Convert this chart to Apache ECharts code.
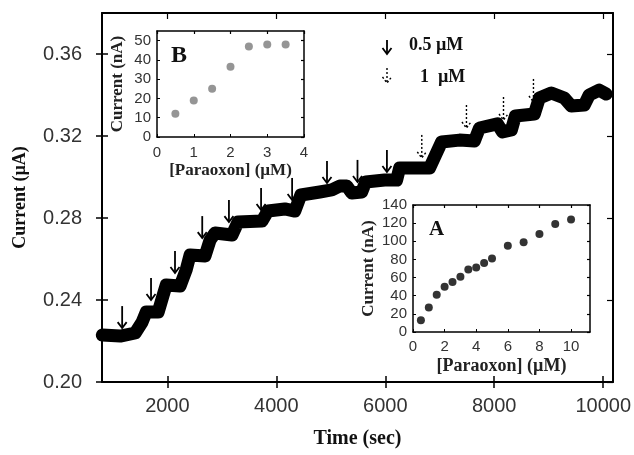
<!DOCTYPE html>
<html>
<head>
<meta charset="utf-8">
<script src="https://cdn.jsdelivr.net/npm/echarts@6/dist/echarts.min.js"></script>
<style>html,body{margin:0;padding:0;background:#fff}#c{width:634px;height:455px}</style>
</head>
<body>
<div id="c"></div>
<script>
// ---- main trace (time in s, current in µA) ----
const traceTime = [805,1135,1410,1538,1611,1831,1923,1978,2234,2344,2417,2692,2784,2875,3187,3296,3736,3846,4157,4340,4450,4798,5018,5165,5293,5385,5568,5641,5989,6208,6263,6813,6923,7033,7362,7637,7729,8059,8150,8315,8388,8736,8828,9048,9286,9414,9652,9743,9927,10055];
const traceCurrent = [0.2229,0.2224,0.2239,0.2293,0.2341,0.2341,0.2424,0.2473,0.2468,0.2546,0.2620,0.2615,0.2693,0.2727,0.2717,0.2780,0.2785,0.2834,0.2844,0.2834,0.2912,0.2927,0.2937,0.2956,0.2956,0.2922,0.2927,0.2976,0.2985,0.2985,0.3044,0.3044,0.3107,0.3171,0.3180,0.3176,0.3239,0.3259,0.3220,0.3230,0.3298,0.3307,0.3385,0.3410,0.3385,0.3346,0.3351,0.3400,0.3424,0.3405];

// ---- injection arrows (time, tip current) ----
const solidArrowTime = [1170,1700,2140,2640,3130,3720,4290,4930,5490,6030];
const solidArrowTip  = [0.2263,0.2400,0.2532,0.2702,0.2780,0.2839,0.2888,0.2971,0.2976,0.3024];
const dottedArrowTime = [6670,7490,8170,8720];
const dottedArrowTip  = [0.3093,0.3239,0.3278,0.3366];

// ---- inset A ----
const insetAConc = [0.5,1,1.5,2,2.5,3,3.5,4,4.5,5,6,7,8,9,10];
const insetACurrent = [13,27,41,50,55,61,69,71,76,81,95,99,108,119,124];
// ---- inset B ----
const insetBConc = [0.5,1,1.5,2,2.5,3,3.5];
const insetBCurrent = [12,19,25,36.5,47,48,48];

// ---- tick labels ----
const mainXTicks = [2000,4000,6000,8000,10000];
const mainYTicks = [0.20,0.24,0.28,0.32,0.36];
const insetAXTicks = [0,2,4,6,8,10];
const insetAYTicks = [0,20,40,60,80,100,120,140];
const insetBXTicks = [0,1,2,3,4];
const insetBYTicks = [0,10,20,30,40,50];

const SERIF = 'Liberation Serif';
const SANS = 'Liberation Sans';
const zip = (a,b)=>a.map((v,i)=>[v,b[i]]);

function arrowRender(dashed){
  return function(params, api){
    const p = api.coord([api.value(0), api.value(1)]);
    const len = dashed ? 23 : 22, hw = 4.5, hh = 6;
    const st = {stroke:'#000', fill:null, lineWidth: dashed?1.4:1.8, lineDash: dashed?[2,2]:null};
    return {type:'group', children:[
      {type:'line', shape:{x1:p[0],y1:p[1]-len,x2:p[0],y2:p[1]}, style:Object.assign({},st)},
      {type:'polyline', shape:{points:[[p[0]-hw,p[1]-hh],[p[0],p[1]],[p[0]+hw,p[1]-hh]]}, style:Object.assign({},st)}
    ]};
  };
}

function frameAxis(gi, pos, min, max, ticks, len, lw){
  return {type:'value', gridIndex:gi, position:pos, min:min, max:max,
    axisLine:{show:true, onZero:false, lineStyle:{color:'#000', width:lw}},
    axisTick:{show:true, inside:true, length:len, customValues:ticks, lineStyle:{color:'#000', width:1.2}},
    axisLabel:{show:false}, splitLine:{show:false}};
}

const chart = echarts.init(document.getElementById('c'), null, {renderer:'canvas'});
chart.setOption({
  animation:false,
  backgroundColor:'#fff',
  grid:[
    {left:102, top:13, width:511, height:369},
    {left:157, top:31, width:147, height:106, show:true, backgroundColor:'#fff', borderWidth:0},
    {left:413, top:205, width:177, height:127, show:true, backgroundColor:'#fff', borderWidth:0}
  ],
  xAxis:[
    {type:'value', gridIndex:0, position:'bottom', min:800, max:10180,
      axisLine:{show:true, onZero:false, lineStyle:{color:'#000', width:2}},
      axisTick:{show:true, length:6, customValues:mainXTicks, lineStyle:{color:'#000', width:1.5}},
      axisLabel:{customValues:mainXTicks, fontFamily:SANS, fontSize:20, color:'#333', margin:14,
        formatter:v=>String(v)},
      splitLine:{show:false},
      name:'Time (sec)', nameLocation:'middle', nameGap:47,
      nameTextStyle:{fontFamily:SERIF, fontWeight:'bold', fontSize:20, color:'#111'}},
    frameAxis(0,'top',800,10180,mainXTicks,6,2),
    {type:'value', gridIndex:0, position:'bottom', min:800, max:10180,
      axisLine:{show:false}, axisTick:{show:true, inside:true, length:6, customValues:mainXTicks, lineStyle:{color:'#000', width:1.5}},
      axisLabel:{show:false}, splitLine:{show:false}},
    {type:'value', gridIndex:1, position:'bottom', min:0, max:4,
      axisLine:{show:true, onZero:false, lineStyle:{color:'#000', width:1.5}},
      axisTick:{show:true, inside:true, length:3, customValues:insetBXTicks, lineStyle:{color:'#000'}},
      axisLabel:{customValues:insetBXTicks, fontFamily:SANS, fontSize:15, color:'#333', margin:8},
      splitLine:{show:false},
      name:'[Paraoxon] (\u00B5M)', nameLocation:'middle', nameGap:25,
      nameTextStyle:{fontFamily:SERIF, fontWeight:'bold', fontSize:17, color:'#222'}},
    frameAxis(1,'top',0,4,insetBXTicks,3,1.5),
    {type:'value', gridIndex:2, position:'bottom', min:0, max:11.2,
      axisLine:{show:true, onZero:false, lineStyle:{color:'#000', width:1.5}},
      axisTick:{show:true, inside:true, length:3, customValues:insetAXTicks, lineStyle:{color:'#000'}},
      axisLabel:{customValues:insetAXTicks, fontFamily:SANS, fontSize:15, color:'#333', margin:7},
      splitLine:{show:false},
      name:'[Paraoxon] (\u00B5M)', nameLocation:'middle', nameGap:25,
      nameTextStyle:{fontFamily:SERIF, fontWeight:'bold', fontSize:18, color:'#222'}},
    frameAxis(2,'top',0,11.2,insetAXTicks,3,1.5)
  ],
  yAxis:[
    {type:'value', gridIndex:0, position:'left', min:0.2, max:0.38,
      axisLine:{show:true, onZero:false, lineStyle:{color:'#000', width:2}},
      axisTick:{show:true, length:6, customValues:mainYTicks, lineStyle:{color:'#000', width:1.5}},
      axisLabel:{customValues:mainYTicks, fontFamily:SANS, fontSize:20, color:'#333', margin:20,
        formatter:v=>v.toFixed(2)},
      splitLine:{show:false},
      name:'Current (\u00B5A)', nameLocation:'middle', nameGap:73,
      nameTextStyle:{fontFamily:SERIF, fontWeight:'bold', fontSize:18, color:'#111'}},
    frameAxis(0,'right',0.2,0.38,mainYTicks,6,2),
    {type:'value', gridIndex:0, position:'left', min:0.2, max:0.38,
      axisLine:{show:false}, axisTick:{show:true, inside:true, length:6, customValues:mainYTicks, lineStyle:{color:'#000', width:1.5}},
      axisLabel:{show:false}, splitLine:{show:false}},
    {type:'value', gridIndex:1, position:'left', min:0, max:55,
      axisLine:{show:true, onZero:false, lineStyle:{color:'#000', width:1.5}},
      axisTick:{show:true, inside:true, length:3, customValues:insetBYTicks, lineStyle:{color:'#000'}},
      axisLabel:{customValues:insetBYTicks, fontFamily:SANS, fontSize:15, color:'#333', margin:6},
      splitLine:{show:false},
      name:'Current (nA)', nameLocation:'middle', nameGap:31,
      nameTextStyle:{fontFamily:SERIF, fontWeight:'bold', fontSize:17, color:'#222'}},
    frameAxis(1,'right',0,55,insetBYTicks,3,1.5),
    {type:'value', gridIndex:2, position:'left', min:0, max:140, interval:20,
      axisLine:{show:true, onZero:false, lineStyle:{color:'#000', width:1.5}},
      axisTick:{show:true, inside:true, length:3, customValues:insetAYTicks, lineStyle:{color:'#000'}},
      axisLabel:{customValues:insetAYTicks, fontFamily:SANS, fontSize:15, color:'#333', margin:6},
      splitLine:{show:false},
      name:'Current (nA)', nameLocation:'middle', nameGap:36,
      nameTextStyle:{fontFamily:SERIF, fontWeight:'bold', fontSize:17, color:'#222'}},
    frameAxis(2,'right',0,140,insetAYTicks,3,1.5)
  ],
  series:[
    {type:'line', xAxisIndex:0, yAxisIndex:0, data:zip(traceTime, traceCurrent), symbol:'none',
      lineStyle:{color:'#000', width:13, join:'round', cap:'round'}, z:3},
    {type:'custom', xAxisIndex:0, yAxisIndex:0, data:zip(solidArrowTime, solidArrowTip),
      renderItem:arrowRender(false), z:4},
    {type:'custom', xAxisIndex:0, yAxisIndex:0, data:zip(dottedArrowTime, dottedArrowTip),
      renderItem:arrowRender(true), z:4},
    {type:'scatter', xAxisIndex:3, yAxisIndex:3, data:zip(insetBConc, insetBCurrent),
      symbolSize:8, itemStyle:{color:'#7a7a7a'}, z:5},
    {type:'scatter', xAxisIndex:5, yAxisIndex:5, data:zip(insetAConc, insetACurrent),
      symbolSize:8, itemStyle:{color:'#000'}, z:5}
  ],
  graphic:[
    {type:'text', left:171, top:44, z:10, style:{text:'B', font:'bold 24px "Liberation Serif"', fill:'#111'}},
    {type:'text', left:429, top:219, z:10, style:{text:'A', font:'bold 21px "Liberation Serif"', fill:'#111'}},
    // legend
    {type:'line', z:10, shape:{x1:387,y1:40,x2:387,y2:54}, style:{stroke:'#000', lineWidth:1.8}},
    {type:'polyline', z:10, shape:{points:[[382.5,48],[387,54],[391.5,48]]}, style:{stroke:'#000', lineWidth:1.8, fill:null}},
    {type:'text', left:409, top:36, z:10, style:{text:'0.5 \u00B5M', font:'bold 18px "Liberation Serif"', fill:'#111'}},
    {type:'line', z:10, shape:{x1:387,y1:68,x2:387,y2:83}, style:{stroke:'#000', lineWidth:1.4, lineDash:[2,2]}},
    {type:'polyline', z:10, shape:{points:[[382.5,77],[387,83],[391.5,77]]}, style:{stroke:'#000', lineWidth:1.4, fill:null, lineDash:[2,2]}},
    {type:'text', left:420, top:68, z:10, style:{text:'1  \u00B5M', font:'bold 18px "Liberation Serif"', fill:'#111'}}
  ]
});
</script>
</body>
</html>
